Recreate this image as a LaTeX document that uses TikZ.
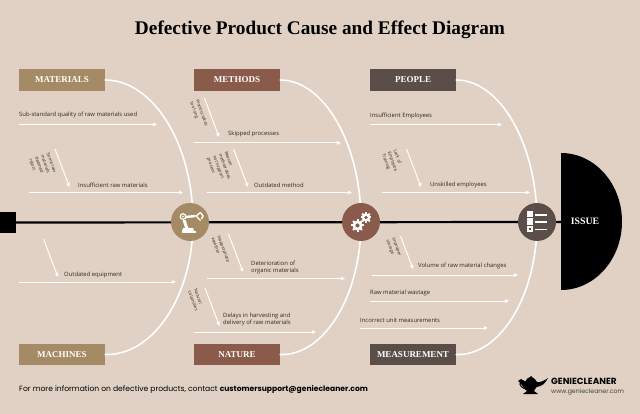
\documentclass[tikz,border=0pt]{standalone}
\usepackage{fontspec}
\setmainfont{Open Sans}
\newfontfamily\serifbold{Liberation Serif}
\newfontfamily\footfont{Poppins}
\definecolor{bgc}{HTML}{E0D1C4}
\definecolor{tan}{HTML}{A58B65}
\definecolor{rust}{HTML}{8A5A4B}
\definecolor{umber}{HTML}{5B4D47}
\definecolor{ink}{HTML}{33291F}
\usetikzlibrary{arrows.meta}
\tikzset{
 catbox/.style={minimum width=86pt,minimum height=21.5pt,inner sep=0pt,text=white,font=\serifbold\bfseries\fontsize{9}{10}\selectfont},
 bone/.style={draw=white,line width=1.6pt,line cap=round},
 rib/.style={draw=white,line width=1pt,-{Triangle[length=4pt,width=3.5pt]}},
 cause/.style={anchor=west,inner sep=0pt,text=ink,align=left,font=\fontsize{5.9}{6.8}\selectfont},
 sub/.style={inner sep=0pt,text=ink,rotate=-70,align=left,font=\fontsize{4.4}{6.2}\selectfont},
 hub/.style={circle,minimum size=38pt,inner sep=0pt},
}
\begin{document}
\begin{tikzpicture}[x=1pt,y=-1pt]
\path[fill=bgc] (0,0) rectangle (640,414);
\useasboundingbox (0,0) rectangle (640,414);
\node[font=\serifbold\bfseries\fontsize{19.3}{21}\selectfont,text=black,inner sep=0pt] (title) at (320,30) {Defective Product Cause and Effect Diagram};
% boxes
\node[catbox,fill=tan] (mat) at (62,80) {MATERIALS};
\node[catbox,fill=rust] (met) at (237,80) {METHODS};
\node[catbox,fill=umber] (peo) at (413,80) {PEOPLE};
\node[catbox,fill=tan] (mac) at (62,354.5) {MACHINES};
\node[catbox,fill=rust] (nat) at (237,354.5) {NATURE};
\node[catbox,fill=umber] (mea) at (413,354.5) {MEASUREMENT};
% hubs and head
\coordinate (hc1) at (190,222);
\coordinate (hc2) at (361,222);
\coordinate (hc3) at (537,222);
\coordinate (j1) at (193,222);
% bones
\draw[bone] (mat.east) .. controls (153,80) and (193,144) .. (j1);
\draw[bone] (mac.east) .. controls (153,356) and (193,296) .. (j1);
\draw[bone] (met.east) .. controls (324,80) and (361,144) .. (hc2);
\draw[bone] (nat.east) .. controls (324,356) and (361,296) .. (hc2);
\draw[bone] (peo.east) .. controls (500,80) and (537,144) .. (hc3);
\draw[bone] (mea.east) .. controls (500,356) and (537,296) .. (hc3);
% spine
\node[fill=black,minimum width=16pt,minimum height=21pt,inner sep=0pt] (tail) at (8,222.5) {};
\path[fill=black] (561,153) arc[start angle=-90,end angle=90,x radius=61,y radius=68.5] -- cycle;
\coordinate (headpt) at (561,222);
\draw[line width=2.2pt,black] (tail.east) -- (headpt);
\node[text=white,font=\serifbold\bfseries\fontsize{9.8}{10}\selectfont,inner sep=0pt] (issue) at (585,221.5) {ISSUE};
\node[hub,fill=tan] (h1) at (hc1) {};
\node[hub,fill=rust] (h2) at (hc2) {};
\node[hub,fill=umber] (h3) at (hc3) {};
% icon 1 robot arm
\begin{scope}[shift={(h1)}]
\fill[white] (-8.5,9) rectangle (6,11);
\fill[white] (-7,6) -- (3,6) -- (4,9) -- (-8,9) -- cycle;
\draw[white,line width=3pt] (-3,7) -- (-6,-2);
\draw[white,line width=2.4pt] (-4,-5) -- (5,-6);
\fill[white] (-7,-5.5) circle (3.4);
\fill[tan] (-7,-5.5) circle (2);
\fill[white] (-7,-5.5) circle (.9);
\draw[white,line width=1.4pt] (10.5,-9.5) -- (6,-6) -- (10.5,-1.5);
\draw[white,line width=1.4pt] (10.5,-9.5) -- (13,-6) -- (11.5,-3);
\end{scope}
% icon 2 gears
\begin{scope}[shift={(h2)}]
\foreach \cx/\cy/\rr in {-3.5/3.5/6.2,5/-4.5/5.4}{
 \foreach \a in {0,45,...,315}{
  \draw[white,line width=2pt] (\cx,\cy) -- ++(\a:\rr);
 }
 \fill[white] (\cx,\cy) circle ({\rr-1.2});
 \fill[rust] (\cx,\cy) circle ({\rr*0.33});
}
\end{scope}
% icon 3 list
\begin{scope}[shift={(h3)}]
\fill[white] (-10,-11) rectangle (-4,-5);
\fill[white] (-10,-3.5) rectangle (-4,3);
\fill[white] (-10,4.5) rectangle (-4,10.5);
\fill[umber] (-8,6.5) rectangle (-6,8.5);
\fill[white] (-2,-7.5) rectangle (10,-6);
\fill[white] (-2,-.5) rectangle (10,1);
\fill[white] (-2,6.8) rectangle (10,8.3);
\end{scope}
% causes: materials
\coordinate (a1s) at (19,124.5); \coordinate (a1e) at (157,124.5);
\draw[rib] (a1s) -- (a1e);
\node[cause] (t1) at (19,114.5) {Sub-standard quality of raw materials used};
\coordinate (a2s) at (29,192.5); \coordinate (a2e) at (183,192.5);
\draw[rib] (a2s) -- (a2e);
\node[cause] (t2) at (78,184.8) {Insufficient raw materials};
\coordinate (s2s) at (55,149); \coordinate (s2e) at (69.5,187);
\draw[rib] (s2s) -- (s2e);
\node[sub] (l2) at (42.4,165.8) {Some raw\\materials\\deemed\\reject};
% methods
\coordinate (a3s) at (194,143); \coordinate (a3e) at (341,143);
\draw[rib] (a3s) -- (a3e);
\node[cause] (t3) at (228,134) {Skipped processes};
\coordinate (s3s) at (204.5,98); \coordinate (s3e) at (219,137);
\draw[rib] (s3s) -- (s3e);
\node[sub] (l3) at (198.8,114) {Process takes\\too long};
\coordinate (a4s) at (207,192.5); \coordinate (a4e) at (352,192.5);
\draw[rib] (a4s) -- (a4e);
\node[cause] (t4) at (254,184.8) {Outdated method};
\coordinate (s4s) at (233.5,149); \coordinate (s4e) at (248,187);
\draw[rib] (s4s) -- (s4e);
\node[sub] (l4) at (221.6,167.7) {Reason\\method does\\not support\\process};
% people
\coordinate (a5s) at (370,124.5); \coordinate (a5e) at (502,124.5);
\draw[rib] (a5s) -- (a5e);
\node[cause] (t5) at (370,115.5) {Insufficient Employees};
\coordinate (a6s) at (382,192.5); \coordinate (a6e) at (530,192.5);
\draw[rib] (a6s) -- (a6e);
\node[cause] (t6) at (430,184.8) {Unskilled employees};
\coordinate (s6s) at (406.5,149); \coordinate (s6e) at (421,187);
\draw[rib] (s6s) -- (s6e);
\node[sub] (l6) at (392.4,161.6) {Lack of\\Employee\\Training};
% machines
\coordinate (a7s) at (19,282); \coordinate (a7e) at (176,282);
\draw[rib] (a7s) -- (a7e);
\node[cause] (t7) at (64,274.5) {Outdated equipment};
\coordinate (s7s) at (43.5,239); \coordinate (s7e) at (58,277);
\draw[rib] (s7s) -- (s7e);
% nature
\coordinate (a8s) at (207,278.5); \coordinate (a8e) at (345,278.5);
\draw[rib] (a8s) -- (a8e);
\node[cause] (t8) at (251,267.5) {Deterioration of\\organic materials};
\coordinate (s8s) at (228.5,234); \coordinate (s8e) at (243,272);
\draw[rib] (s8s) -- (s8e);
\node[sub] (l8) at (220.8,249.9) {Inappropriate\\weather};
\coordinate (a9s) at (194,332); \coordinate (a9e) at (316,332);
\draw[rib] (a9s) -- (a9e);
\node[cause] (t9) at (223,319.5) {Delays in harvesting and\\delivery of raw materials};
\coordinate (s9s) at (205,288); \coordinate (s9e) at (219.5,326);
\draw[rib] (s9s) -- (s9e);
\node[sub] (l9) at (196.2,300) {Natural\\calamities};
% measurement
\coordinate (a10s) at (372,275); \coordinate (a10e) at (518,275);
\draw[rib] (a10s) -- (a10e);
\node[cause] (t10) at (418,266) {Volume of raw material changes};
\coordinate (s10s) at (400.5,236); \coordinate (s10e) at (413,269);
\draw[rib] (s10s) -- (s10e);
\node[sub] (l10) at (393.6,248) {Improper\\storage};
\coordinate (a11s) at (370,301); \coordinate (a11e) at (509,301);
\draw[rib] (a11s) -- (a11e);
\node[cause] (t11) at (370,293) {Raw material wastage};
\coordinate (a12s) at (360,328); \coordinate (a12e) at (488,328);
\draw[rib] (a12s) -- (a12e);
\node[cause] (t12) at (360,320) {Incorrect unit measurements};
% footer
\node[anchor=west,inner sep=0pt,text=black,font=\footfont\fontsize{7.6}{10}\selectfont] (foot) at (19,390) {For more information on defective products, contact \textbf{customersupport@geniecleaner.com}};
\node[anchor=west,inner sep=0pt,text=black,font=\footfont\bfseries\fontsize{8.9}{10}\selectfont] (brand) at (551,381.5) {GENIECLEANER};
\node[anchor=west,inner sep=0pt,text=black!75,font=\footfont\fontsize{6.2}{8}\selectfont] (web) at (551,391.5) {www.geniecleaner.com};
% lamp
\fill[black] (522,386) -- (537,386) -- (534,391) -- (538,394) -- (523,394) -- (527,391) .. controls (524,389) and (522,384) .. (518,381) -- (521,379) .. controls (523,380) and (524,380) .. (526,382) -- (536,382) .. controls (539,383) and (544,381) .. (548,378) .. controls (545,384) and (542,386) .. (537,387) -- cycle;
\fill[black] (525,382) .. controls (526,379) and (528,378) .. (530,377) -- (531,376) -- (532,377) .. controls (534,378) and (536,380) .. (537,382) -- cycle;
\draw[black,line width=1pt] (525,383) .. controls (518,380) and (518,387) .. (526,389);
\end{tikzpicture}
\end{document}
